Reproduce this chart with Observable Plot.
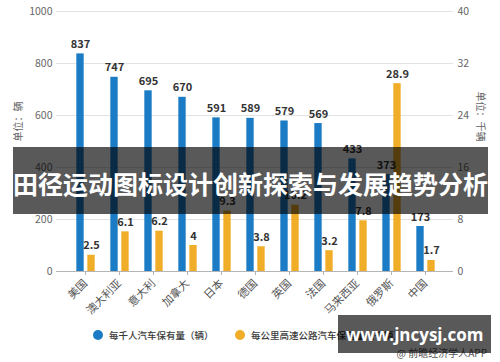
<!DOCTYPE html>
<html>
<head>
<meta charset="utf-8">
<script src="https://cdn.jsdelivr.net/npm/d3@7"></script>
<script src="https://cdn.jsdelivr.net/npm/@observablehq/plot@0.6"></script>
<style>
  html, body { margin: 0; padding: 0; background: #fff; }
  body { width: 500px; height: 362px; overflow: hidden; font-family: "Noto Sans CJK SC", "Noto Sans", sans-serif; }
  #wrap { position: relative; width: 500px; height: 362px; }
  #chart { position: absolute; left: 0; top: 0; }
  .legend-item { position: absolute; display: flex; align-items: center; font-size: 9.5px; color: #3a3a3a; font-weight: 500; white-space: nowrap; }
  .legend-item .dot { width: 10px; height: 10px; border-radius: 50%; margin-right: 6px; }
  #source { position: absolute; right: 13px; top: 345px; font-size: 10px; color: #555; white-space: nowrap; }
  #banner { position: absolute; left: 13px; top: 147px; width: 475px; height: 67px; background: rgba(0,0,0,0.65);
            display: flex; align-items: center; justify-content: center; color: #fff; font-weight: 700; font-size: 25px;
            white-space: nowrap; padding-top: 4px; box-sizing: border-box; }
  #wm { position: absolute; left: 338px; top: 315px; width: 153px; height: 38px; background: rgba(0,0,0,0.65);
        display: flex; align-items: center; justify-content: center; color: #fff; font-weight: 700; font-size: 17px;
        font-family: "Open Sans", "DejaVu Sans", sans-serif; white-space: nowrap; }
</style>
</head>
<body>
<div id="wrap">
  <div id="chart"></div>
  <div id="legend"></div>
  <div id="source">@ 前瞻经济学人APP</div>
  <div id="banner">田径运动图标设计创新探索与发展趋势分析</div>
  <div id="wm">www.jncysj.com</div>
</div>
<script>
const categories = ["美国","澳大利亚","意大利","加拿大","日本","德国","英国","法国","马来西亚","俄罗斯","中国"];
const carsPerThousand = [837, 747, 695, 670, 591, 589, 579, 569, 433, 373, 173];
const carsPerKmHighway = [2.5, 6.1, 6.2, 4, 9.3, 3.8, 10.2, 3.2, 7.8, 28.9, 1.7];
const leftTicks = [0, 200, 400, 600, 800, 1000];
const rightTicks = [0, 8, 16, 24, 32, 40];
const seriesNames = ["每千人汽车保有量（辆）", "每公里高速公路汽车保有量（千辆）"];
const leftTitle = "单位：辆";
const rightTitle = "单位：千辆";

const BLUE = "#1b7cc5";
const YELLOW = "#f0ad27";
const k = leftTicks[leftTicks.length - 1] / rightTicks[rightTicks.length - 1];

const blueData = categories.map((c, i) => ({c, v: carsPerThousand[i]}));
const yellowData = categories.map((c, i) => ({c, v: carsPerKmHighway[i]}));

const W = 500, H = 315, ML = 64, MR = 55;
const step = (W - ML - MR) / categories.length;
const half = step / 2;

const chart = Plot.plot({
  width: W, height: H,
  marginLeft: ML, marginRight: MR, marginTop: 11, marginBottom: 44,
  style: {fontFamily: "'Noto Sans CJK SC', 'Noto Sans', sans-serif", background: "transparent", overflow: "visible"},
  x: {domain: categories, padding: 0, axis: null},
  y: {domain: [0, leftTicks[leftTicks.length - 1]], axis: null},
  marks: [
    Plot.ruleY(leftTicks.slice(1), {stroke: "#e2e2e2", strokeWidth: 1, insetLeft: -8, insetRight: -8}),
    Plot.barY(blueData, {x: "c", y: "v", fill: BLUE, insetLeft: half - 9, insetRight: half + 1}),
    Plot.barY(yellowData, {x: "c", y: d => d.v * k, fill: YELLOW, insetLeft: half + 2, insetRight: half - 10}),
    Plot.ruleY([0], {stroke: "#b5b5b5", strokeWidth: 1, insetLeft: -8, insetRight: -8}),
    Plot.text(blueData, {x: "c", y: "v", text: d => String(d.v), dx: -5, dy: -9.5, fill: "#333", fontWeight: "bold", fontSize: 11}),
    Plot.text(yellowData, {x: "c", y: d => d.v * k, text: d => String(d.v), dx: 6, dy: -9.5, fill: "#333", fontWeight: "bold", fontSize: 11}),
    Plot.axisX({anchor: "bottom", tickSize: 4, tickPadding: 6, tickRotate: -45, stroke: "#b5b5b5", color: "#555", fontSize: 11, label: null}),
    Plot.axisY(leftTicks, {anchor: "left", tickSize: 0, tickPadding: 12, color: "#666", fontSize: 10.5, label: null, tickFormat: d => String(d)}),
    Plot.axisY(rightTicks.map(t => t * k), {anchor: "right", tickSize: 0, tickPadding: 12, color: "#666", fontSize: 10.5, label: null, tickFormat: d => String(d / k)}),
    Plot.text([leftTitle], {frameAnchor: "left", dx: -46, rotate: -90, fill: "#666", fontSize: 10}),
    Plot.text([rightTitle], {frameAnchor: "right", dx: 35, rotate: 90, fill: "#666", fontSize: 10})
  ]
});
document.getElementById("chart").appendChild(chart);

const legend = document.getElementById("legend");
const legendPos = [{x: 93, color: BLUE}, {x: 235, color: YELLOW}];
seriesNames.forEach((name, i) => {
  const item = document.createElement("div");
  item.className = "legend-item";
  item.style.left = legendPos[i].x + "px";
  item.style.top = "328px";
  const dot = document.createElement("span");
  dot.className = "dot";
  dot.style.background = legendPos[i].color;
  const label = document.createElement("span");
  label.textContent = name;
  item.appendChild(dot);
  item.appendChild(label);
  legend.appendChild(item);
});
</script>
</body>
</html>
